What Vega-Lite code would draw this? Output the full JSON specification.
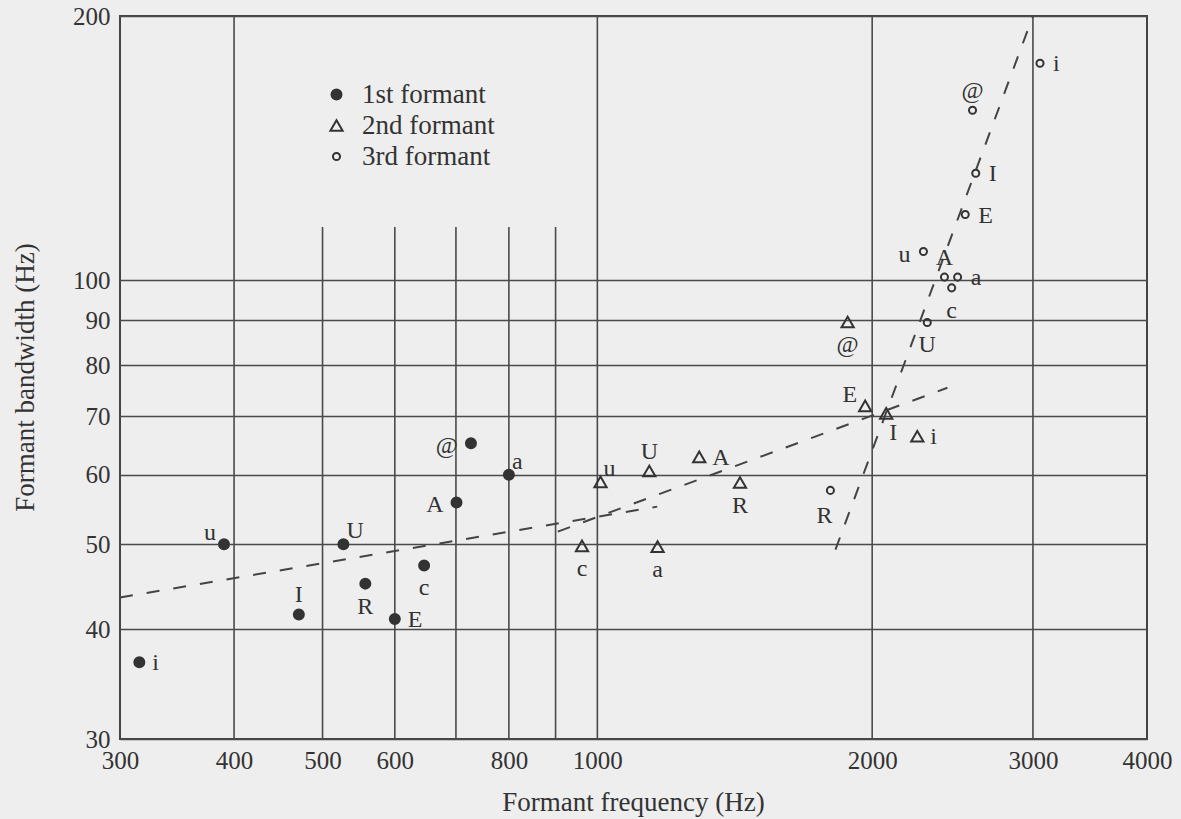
{
  "$schema": "https://vega.github.io/schema/vega-lite/v6.json",
  "autosize": {"type": "none"},
  "padding": {"left": 120, "top": 16, "right": 34, "bottom": 80},
  "width": 1027,
  "height": 723,
  "background": "#eeeeee",
  "config": {
    "view": {"stroke": "#444444", "strokeWidth": 2},
    "font": "Liberation Serif",
    "axis": {
      "domain": false, "ticks": false, "tickSize": 0, "labelFlush": false, "labelOverlap": false,
      "labelFont": "Liberation Serif", "labelFontSize": 25, "labelColor": "#333333",
      "titleFont": "Liberation Serif", "titleFontSize": 27, "titleFontWeight": "normal", "titleColor": "#333333"
    },
    "legend": {
      "orient": "none", "legendX": 203, "legendY": 65, "padding": 0,
      "labelFont": "Liberation Serif", "labelFontSize": 27, "labelColor": "#333333",
      "rowPadding": 3, "labelOffset": 12,
      "symbolStrokeWidth": 2, "symbolStrokeColor": "#333333", "symbolOpacity": 1
    }
  },
  "datasets": {
    "points": [
      {"formant": "1st formant", "vowel": "i", "freq": 315, "bw": 36.7, "pos": "right"},
      {"formant": "1st formant", "vowel": "u", "freq": 390, "bw": 50, "pos": "upleft"},
      {"formant": "1st formant", "vowel": "U", "freq": 527, "bw": 50, "pos": "upright"},
      {"formant": "1st formant", "vowel": "I", "freq": 471, "bw": 41.6, "pos": "above"},
      {"formant": "1st formant", "vowel": "R", "freq": 557, "bw": 45.1, "pos": "below"},
      {"formant": "1st formant", "vowel": "E", "freq": 600, "bw": 41.1, "pos": "right"},
      {"formant": "1st formant", "vowel": "c", "freq": 646, "bw": 47.3, "pos": "below"},
      {"formant": "1st formant", "vowel": "A", "freq": 701, "bw": 55.8, "pos": "left"},
      {"formant": "1st formant", "vowel": "@", "freq": 727, "bw": 65.2, "pos": "left"},
      {"formant": "1st formant", "vowel": "a", "freq": 800, "bw": 60, "pos": "upright"},
      {"formant": "2nd formant", "vowel": "c", "freq": 962, "bw": 49.8, "pos": "below"},
      {"formant": "2nd formant", "vowel": "u", "freq": 1008, "bw": 58.9, "pos": "upright"},
      {"formant": "2nd formant", "vowel": "U", "freq": 1140, "bw": 60.6, "pos": "above"},
      {"formant": "2nd formant", "vowel": "a", "freq": 1164, "bw": 49.7, "pos": "below"},
      {"formant": "2nd formant", "vowel": "A", "freq": 1293, "bw": 62.9, "pos": "right"},
      {"formant": "2nd formant", "vowel": "R", "freq": 1433, "bw": 58.8, "pos": "below"},
      {"formant": "2nd formant", "vowel": "E", "freq": 1965, "bw": 71.9, "pos": "upleft"},
      {"formant": "2nd formant", "vowel": "I", "freq": 2072, "bw": 70.5, "pos": "downright"},
      {"formant": "2nd formant", "vowel": "i", "freq": 2241, "bw": 66.4, "pos": "right"},
      {"formant": "2nd formant", "vowel": "@", "freq": 1880, "bw": 89.6, "pos": "below"},
      {"formant": "3rd formant", "vowel": "R", "freq": 1800, "bw": 57.6, "pos": "downleft"},
      {"formant": "3rd formant", "vowel": "U", "freq": 2298, "bw": 89.5, "pos": "below"},
      {"formant": "3rd formant", "vowel": "c", "freq": 2444, "bw": 98, "pos": "below"},
      {"formant": "3rd formant", "vowel": "A", "freq": 2400, "bw": 100.8, "pos": "above"},
      {"formant": "3rd formant", "vowel": "a", "freq": 2481, "bw": 100.8, "pos": "right"},
      {"formant": "3rd formant", "vowel": "u", "freq": 2276, "bw": 107.8, "pos": "left"},
      {"formant": "3rd formant", "vowel": "E", "freq": 2529, "bw": 118.8, "pos": "right"},
      {"formant": "3rd formant", "vowel": "I", "freq": 2597, "bw": 132.4, "pos": "right"},
      {"formant": "3rd formant", "vowel": "@", "freq": 2576, "bw": 156.2, "pos": "above"},
      {"formant": "3rd formant", "vowel": "i", "freq": 3054, "bw": 176.7, "pos": "right"}
    ],
    "fits": [
      {"formant": "1st formant", "freq": 300, "bw": 43.5},
      {"formant": "1st formant", "freq": 1163, "bw": 55.2},
      {"formant": "2nd formant", "freq": 905, "bw": 51.7},
      {"formant": "2nd formant", "freq": 2418, "bw": 75.4},
      {"formant": "3rd formant", "freq": 1823, "bw": 49.3},
      {"formant": "3rd formant", "freq": 3000, "bw": 200}
    ],
    "vgrid": [
      {"freq": 400, "bw": 30, "bw2": 200},
      {"freq": 500, "bw": 30, "bw2": 115},
      {"freq": 600, "bw": 30, "bw2": 115},
      {"freq": 700, "bw": 30, "bw2": 115},
      {"freq": 800, "bw": 30, "bw2": 115},
      {"freq": 900, "bw": 30, "bw2": 115},
      {"freq": 1000, "bw": 30, "bw2": 200},
      {"freq": 2000, "bw": 30, "bw2": 200},
      {"freq": 3000, "bw": 30, "bw2": 200}
    ]
  },
  "encoding": {
    "x": {
      "field": "freq", "type": "quantitative",
      "scale": {"type": "log", "domain": [300, 4000], "nice": false, "zero": false},
      "axis": {
        "values": [300, 400, 500, 600, 800, 1000, 2000, 3000, 4000], "format": "d",
        "grid": false, "labelBaseline": "alphabetic", "labelPadding": 29,
        "title": "Formant frequency (Hz)", "titleX": 513, "titleY": 71,
        "titleBaseline": "alphabetic", "titleAlign": "center"
      }
    },
    "y": {
      "field": "bw", "type": "quantitative",
      "scale": {"type": "log", "domain": [30, 200], "nice": false, "zero": false},
      "axis": {
        "values": [30, 40, 50, 60, 70, 80, 90, 100, 200], "format": "d",
        "grid": true, "gridColor": "#4a4a4a", "gridWidth": 1.6, "gridOpacity": 1,
        "labelPadding": 10,
        "title": "Formant bandwidth (Hz)", "titleX": -95, "titleY": 361,
        "titleAngle": 270, "titleAlign": "center", "titleBaseline": "middle"
      }
    }
  },
  "layer": [
    {
      "data": {"name": "vgrid"},
      "mark": {"type": "rule", "color": "#4a4a4a", "strokeWidth": 1.6},
      "encoding": {"y2": {"field": "bw2"}}
    },
    {
      "data": {"name": "fits"},
      "mark": {"type": "line", "color": "#444444", "strokeWidth": 2, "strokeDash": [13, 14]},
      "encoding": {"detail": {"field": "formant"}}
    },
    {
      "data": {"name": "points"},
      "mark": {"type": "point", "stroke": "#333333", "strokeWidth": 2, "opacity": 1},
      "encoding": {
        "shape": {"field": "formant", "type": "nominal",
          "scale": {"domain": ["1st formant", "2nd formant", "3rd formant"], "range": ["circle", "triangle-up", "circle"]},
          "legend": {"title": null, "encode": {"symbols": {"update": {"stroke": {"value": "#333333"}, "strokeWidth": {"value": 2}, "opacity": {"value": 1}}}}}},
        "fill": {"field": "formant", "type": "nominal",
          "scale": {"domain": ["1st formant", "2nd formant", "3rd formant"], "range": ["#333333", "transparent", "transparent"]},
          "legend": {"title": null, "encode": {"symbols": {"update": {"stroke": {"value": "#333333"}, "strokeWidth": {"value": 2}, "opacity": {"value": 1}}}}}},
        "size": {"field": "formant", "type": "nominal",
          "scale": {"type": "ordinal", "domain": ["1st formant", "2nd formant", "3rd formant"], "range": [100, 150, 50]},
          "legend": {"title": null, "encode": {"symbols": {"update": {"stroke": {"value": "#333333"}, "strokeWidth": {"value": 2}, "opacity": {"value": 1}}}}}}
      }
    },
    {
      "data": {"name": "points"},
      "transform": [{"filter": "datum.pos == 'right'"}],
      "mark": {"type": "text", "font": "Liberation Serif", "fontSize": 24, "color": "#333333", "align": "left", "baseline": "alphabetic", "dx": 13, "dy": 8},
      "encoding": {"text": {"field": "vowel"}}
    },
    {
      "data": {"name": "points"},
      "transform": [{"filter": "datum.pos == 'left'"}],
      "mark": {"type": "text", "font": "Liberation Serif", "fontSize": 24, "color": "#333333", "align": "right", "baseline": "alphabetic", "dx": -13, "dy": 10},
      "encoding": {"text": {"field": "vowel"}}
    },
    {
      "data": {"name": "points"},
      "transform": [{"filter": "datum.pos == 'above'"}],
      "mark": {"type": "text", "font": "Liberation Serif", "fontSize": 24, "color": "#333333", "align": "center", "baseline": "alphabetic", "dx": 0, "dy": -12},
      "encoding": {"text": {"field": "vowel"}}
    },
    {
      "data": {"name": "points"},
      "transform": [{"filter": "datum.pos == 'below'"}],
      "mark": {"type": "text", "font": "Liberation Serif", "fontSize": 24, "color": "#333333", "align": "center", "baseline": "alphabetic", "dx": 0, "dy": 30},
      "encoding": {"text": {"field": "vowel"}}
    },
    {
      "data": {"name": "points"},
      "transform": [{"filter": "datum.pos == 'upright'"}],
      "mark": {"type": "text", "font": "Liberation Serif", "fontSize": 24, "color": "#333333", "align": "left", "baseline": "alphabetic", "dx": 3, "dy": -6},
      "encoding": {"text": {"field": "vowel"}}
    },
    {
      "data": {"name": "points"},
      "transform": [{"filter": "datum.pos == 'upleft'"}],
      "mark": {"type": "text", "font": "Liberation Serif", "fontSize": 24, "color": "#333333", "align": "right", "baseline": "alphabetic", "dx": -8, "dy": -4},
      "encoding": {"text": {"field": "vowel"}}
    },
    {
      "data": {"name": "points"},
      "transform": [{"filter": "datum.pos == 'downright'"}],
      "mark": {"type": "text", "font": "Liberation Serif", "fontSize": 24, "color": "#333333", "align": "left", "baseline": "alphabetic", "dx": 3, "dy": 27},
      "encoding": {"text": {"field": "vowel"}}
    },
    {
      "data": {"name": "points"},
      "transform": [{"filter": "datum.pos == 'downleft'"}],
      "mark": {"type": "text", "font": "Liberation Serif", "fontSize": 24, "color": "#333333", "align": "right", "baseline": "alphabetic", "dx": 2, "dy": 33},
      "encoding": {"text": {"field": "vowel"}}
    }
  ]
}
